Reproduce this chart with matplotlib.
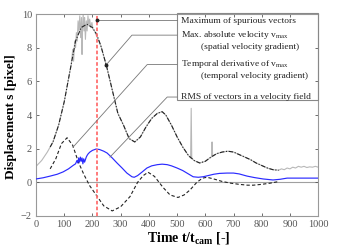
import matplotlib
matplotlib.use("Agg")
import matplotlib.pyplot as plt
from matplotlib.patches import Rectangle

plt.rcParams['font.family'] = ['Liberation Serif', 'DejaVu Serif']
plt.rcParams['mathtext.fontset'] = 'custom'
plt.rcParams['mathtext.rm'] = 'Liberation Serif'
plt.rcParams['mathtext.bf'] = 'Liberation Serif:bold'

# ---- data ----
spur_x = [0, 20, 40, 60, 80, 100, 120, 125, 130, 133, 137, 140, 143, 146, 149, 152, 155, 158,
          161, 163, 165, 167, 170, 172, 175, 178, 181, 184, 187, 190, 194, 198, 202, 207, 212,
          230, 250, 270, 290, 310, 330, 350, 370, 390, 410, 430, 447, 460, 480, 500, 520, 540,
          548, 550, 552, 560, 580, 600, 620, 622, 624, 626, 640, 660, 680, 700, 720, 740, 760,
          780, 800, 820, 840, 860, 870, 880, 890, 900, 910, 920, 930, 940, 950, 960, 970, 980,
          990, 1000]
spur_y = [0.95, 1.3, 1.8, 2.4, 3.4, 4.8, 6.6, 7.0, 7.9, 7.2, 8.4, 8.0, 8.9, 8.4, 9.6, 9.0, 9.9, 8.6,
          9.8, 7.6, 9.2, 10.0, 9.0, 9.8, 8.5, 9.6, 9.0, 9.9, 9.3, 9.7, 9.2, 9.5, 9.1, 9.0, 8.8,
          8.1, 6.9, 5.5, 4.1, 3.4, 2.6, 2.4, 2.7, 3.3, 3.8, 4.1, 4.2, 4.0, 3.4, 2.7, 2.1, 1.6,
          1.45, 4.4, 1.45, 1.3, 1.15, 1.25, 1.5, 1.5, 2.4, 1.55, 1.7, 1.8, 1.85, 1.8, 1.65, 1.5, 1.35,
          1.15, 1.0, 0.85, 0.75, 0.72, 0.8, 0.75, 0.85, 0.8, 0.9, 0.85, 0.95, 0.9, 0.95, 0.88, 0.92, 0.9,
          0.95, 0.9]

vmax_x = [50, 60, 80, 100, 120, 140, 160, 180, 200, 215, 230, 250, 270, 290, 310, 330, 350, 370,
          390, 410, 430, 447, 460, 480, 500, 520, 540, 560, 580, 600, 620, 640, 660, 680, 700,
          720, 740, 760, 780, 800, 820, 840, 860]
vmax_y = [2.1, 2.4, 3.4, 4.8, 6.6, 8.4, 9.2, 9.4, 9.2, 8.8, 8.1, 6.9, 5.5, 4.1, 3.4, 2.6, 2.4, 2.7,
          3.3, 3.8, 4.1, 4.2, 4.0, 3.4, 2.7, 2.1, 1.6, 1.3, 1.15, 1.25, 1.5, 1.7, 1.8, 1.85, 1.8,
          1.65, 1.5, 1.35, 1.15, 1.0, 0.85, 0.75, 0.72]

dvdt_x = [50, 70, 90, 110, 130, 150, 170, 190, 213, 240, 270, 300, 333, 360, 380, 397, 420, 450,
          475, 503, 525, 546, 570, 590, 606, 630, 660, 690, 720, 750, 770, 800, 830, 855]
dvdt_y = [0.8, 1.4, 2.3, 2.65, 2.2, 1.2, 0.45, -0.2, -0.75, -1.4, -1.7, -1.45, -0.85, 0.0, 0.4, 0.6,
          0.35, -0.3, -0.75, -0.9, -0.75, -0.45, 0.0, 0.25, 0.3, 0.2, 0.05, -0.05, -0.12, -0.17,
          -0.17, -0.12, -0.05, 0.03]

rms_x = [0, 25, 50, 75, 96, 115, 131, 140, 145, 148, 151, 154, 157, 160, 163, 166, 169, 172, 175,
         178, 181, 185, 191, 200, 213, 225, 240, 252, 270, 287, 305, 322, 340, 348, 360, 375, 393,
         410, 430, 447, 465, 480, 500, 520, 540, 557, 575, 592, 610, 630, 650, 677, 700, 720, 748,
         775, 805, 840, 865, 890, 920, 950, 1000]
rms_y = [0.2, 0.27, 0.37, 0.48, 0.62, 0.8, 1.0, 1.1, 1.3, 1.15, 1.45, 1.2, 1.5, 1.25, 1.45, 1.1, 1.4,
         1.2, 1.35, 1.5, 1.6, 1.7, 1.8, 1.9, 1.98, 1.95, 1.85, 1.74, 1.45, 1.15, 0.85, 0.55, 0.33,
         0.3, 0.4, 0.6, 0.85, 0.98, 1.05, 1.08, 1.05, 0.98, 0.85, 0.7, 0.5, 0.33, 0.3, 0.33, 0.4,
         0.48, 0.53, 0.55, 0.55, 0.5, 0.37, 0.28, 0.2, 0.14, 0.18, 0.25, 0.25, 0.25, 0.25]

marker_t = 215
x_ticks = list(range(0, 1001, 100))
y_ticks = [-2, 0, 2, 4, 6, 8, 10]

labels = ["Maximum of spurious vectors",
          "Max. absolute velocity v$_{\\rm max}$",
          "(spatial velocity gradient)",
          "Temporal derivative of v$_{\\rm max}$",
          "(temporal velocity gradient)",
          "RMS of vectors in a velocity field"]

# ---- figure ----
fig = plt.figure(figsize=(3.37, 2.52), dpi=100)
ax = fig.add_axes([0.107, 0.143, 0.837, 0.801])

ax.axhline(0, color='#a0a0a0', lw=0.8, zorder=1)
ax.plot(spur_x, spur_y, color='#b8b8b8', lw=0.8, zorder=2)
ax.plot(vmax_x, vmax_y, color='#222222', lw=0.8, ls=(0, (4, 1.5, 1, 1.5)), zorder=3)
ax.plot(dvdt_x, dvdt_y, color='#222222', lw=0.8, ls=(0, (3, 2)), zorder=3)
ax.plot(rms_x, rms_y, color='#2a2aff', lw=0.85, zorder=4)
ax.axvline(marker_t, color='#ff7070', lw=1.3, ls=(0, (2, 1.2)), zorder=5)

ax.set_xlim(0, 1000)
ax.set_ylim(-2, 10)
ax.set_xticks(x_ticks)
ax.set_yticks(y_ticks)
ax.tick_params(direction='in', length=2.5, width=0.6, colors='#555555', labelsize=7.5,
               top=True, right=True, pad=3)
for s in ax.spines.values():
    s.set_color('#999999')
    s.set_linewidth(0.8)

ax.set_xlabel("Time t/t$_{\\mathbf{cam}}$ [-]", fontsize=10, fontweight='bold')
ax.xaxis.set_label_coords(0.54, -0.07)
ax.set_ylabel("Displacement s [pixel]", fontsize=9.5, fontweight='bold')
ax.yaxis.set_label_coords(-0.068, 0.49)

# ---- annotation box ----
box_l, box_b = 500, 4.9
ax.add_patch(Rectangle((box_l, box_b), 1000 - box_l, 10.05 - box_b, fill=False,
                       edgecolor='#888888', lw=0.8, clip_on=False, zorder=6))
ty = [9.6, 8.78, 8.05, 7.06, 6.33, 5.1]
tx = [515, 515, 585, 515, 585, 515]
for x, y, t in zip(tx, ty, labels):
    ax.text(x, y, t, fontsize=6.8, color='#222222', va='center', ha='left', zorder=7)

lc = '#777777'
# leaders: (start on curve) -> elbow -> box edge
ax.plot([216, box_l], [9.64, 9.64], color=lc, lw=0.6, zorder=6)
ax.plot([216], [9.64], 'o', color='#222222', ms=1.8, zorder=7)
ax.plot([248, 340, box_l], [6.97, 8.75, 8.75], color=lc, lw=0.6, zorder=6)
ax.plot([248], [6.97], 'o', color='#222222', ms=1.8, zorder=7)
ax.plot([131, 394, box_l], [2.09, 7.0, 7.0], color=lc, lw=0.6, zorder=6)
ax.plot([262, 465, box_l], [1.5, 5.07, 5.07], color=lc, lw=0.6, zorder=6)

fig.savefig("out.png", dpi=100)
